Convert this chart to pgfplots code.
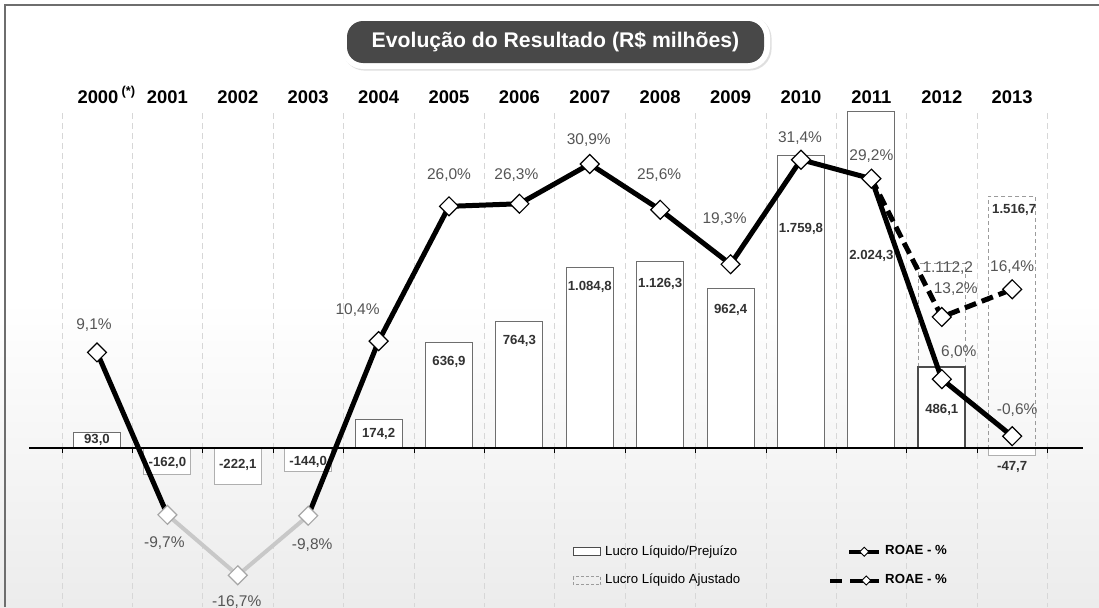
\documentclass[border=0pt]{standalone}
\usepackage{pgfplots}
\pgfplotsset{compat=1.18}
\usepackage{fontspec}
\setmainfont{Liberation Sans}
\usetikzlibrary{shadows}

\definecolor{barline}{RGB}{110,110,110}
\definecolor{negline}{RGB}{175,175,175}
\definecolor{adjline}{RGB}{155,155,155}
\definecolor{pctgray}{RGB}{85,85,85}
\definecolor{valdark}{RGB}{50,50,50}
\definecolor{titlebg}{RGB}{72,72,72}
\definecolor{gridc}{RGB}{215,215,215}
\definecolor{roaegray}{RGB}{200,200,200}
\definecolor{framec}{RGB}{110,110,110}
\definecolor{bottombg}{RGB}{236,236,236}

\tikzset{
  barlbl/.style={font=\bfseries\fontsize{6.6}{8}\selectfont, text=valdark, inner sep=0pt},
  pct/.style={font=\fontsize{7.75}{9}\selectfont, text=pctgray, inner sep=0pt},
  yearlbl/.style={font=\bfseries\fontsize{9.2}{11}\selectfont, anchor=base, inner sep=0pt},
}

\begin{document}
\begin{tikzpicture}
\path[use as bounding box] (0,0) rectangle (549.5pt,303.5pt);

% background, frame, grid, title, years (pixel coordinates, y downwards)
\begin{scope}[x=0.5pt, y=-0.5pt, yshift=303.5pt]
  \fill[white] (0,0) rectangle (1099,607);
  \shade[top color=white, bottom color=bottombg] (0,300) rectangle (1099,607);
  \draw[framec, line width=1pt] (5,607) -- (5,5) -- (1099,5);
  \foreach \k in {0,...,14}
    \draw[gridc, line width=0.5pt, dash pattern=on 3pt off 2pt] ({62+70.4*\k},113) -- ({62+70.4*\k},607);
  \fill[white, rounded corners=11pt, drop shadow={opacity=0.25, shadow xshift=0.8pt, shadow yshift=-0.8pt}]
    (341,15) rectangle (770,69);
  \fill[titlebg, rounded corners=8pt] (347,21) rectangle (764,63);
  \node[text=white, font=\bfseries\fontsize{10.6}{12}\selectfont] at (555.5,42)
    {Evolução do Resultado (R\$ milhões)};
  \node[yearlbl] at (98,103) {2000\rlap{\,\textsuperscript{(*)}}};
  \foreach \yr [count=\i from 1] in {2001,...,2013}
    \node[yearlbl] at ({97+70.4*\i},103) {\yr};
\end{scope}

% bars (R$ milhoes)
\begin{axis}[at={(0,0)}, anchor=south west, scale only axis,
  width=549.5pt, height=303.5pt,
  xmin=-1.3778, xmax=14.2330, ymin=-957.83, ymax=2698.8,
  hide axis, clip=false]
  \addplot[ybar, bar width=23.5pt, bar shift=0pt, draw=barline, fill=white, line width=0.5pt]
    coordinates {(0,93.0) (4,174.2) (5,636.9) (6,764.3) (7,1084.8) (8,1126.3) (9,962.4) (10,1759.8) (11,2024.3)};
  \addplot[ybar, bar width=23.5pt, bar shift=0pt, draw=negline, fill=white, line width=0.5pt]
    coordinates {(1,-162.0) (2,-222.1) (3,-144.0) (13,-47.7)};
  \addplot[ybar, bar width=23.5pt, bar shift=0pt, draw=adjline, fill=none, line width=0.5pt, dash pattern=on 2pt off 1.5pt]
    coordinates {(12,1112.2) (13,1516.7)};
  \addplot[ybar, bar width=23.5pt, bar shift=0pt, draw=black!70, fill=white, line width=1pt]
    coordinates {(12,486.1)};

  \node[barlbl, yshift=4pt] at (axis cs:0,0) {93,0};
  \node[barlbl, yshift=-7.5pt] at (axis cs:1,0) {-162,0};
  \node[barlbl, yshift=-8.5pt] at (axis cs:2,0) {-222,1};
  \node[barlbl, yshift=-7pt] at (axis cs:3,0) {-144,0};
  \node[barlbl, yshift=7pt] at (axis cs:4,0) {174,2};
  \node[barlbl, yshift=43pt] at (axis cs:5,0) {636,9};
  \node[barlbl, yshift=53.5pt] at (axis cs:6,0) {764,3};
  \node[barlbl, yshift=80.5pt] at (axis cs:7,0) {1.084,8};
  \node[barlbl, yshift=82pt] at (axis cs:8,0) {1.126,3};
  \node[barlbl, yshift=69pt] at (axis cs:9,0) {962,4};
  \node[barlbl, yshift=109.5pt] at (axis cs:10,0) {1.759,8};
  \node[barlbl, yshift=96pt] at (axis cs:11,0) {2.024,3};
  \node[barlbl, yshift=19pt] at (axis cs:12,0) {486,1};
  \node[pct, xshift=3pt, yshift=90pt] at (axis cs:12,0) {1.112,2};
  \node[barlbl, xshift=1pt, yshift=119pt] at (axis cs:13,0) {1.516,7};
  \node[barlbl, yshift=-9.5pt] at (axis cs:13,0) {-47,7};
\end{axis}

% zero line with small ticks at the column borders
\begin{scope}[x=0.5pt, y=-0.5pt, yshift=303.5pt]
  \draw[black, line width=0.8pt] (29,448) -- (1083,448);
  \foreach \k in {0,...,14}
    \draw[black, line width=0.5pt] ({62+70.4*\k},448) -- ({62+70.4*\k},453);
\end{scope}

% ROAE (%)
\begin{axis}[at={(0,0)}, anchor=south west, scale only axis,
  width=549.5pt, height=303.5pt,
  xmin=-1.3778, xmax=14.2330, ymin=-20.370, ymax=49.884,
  hide axis, clip=false,
  legend columns=2,
  legend cell align=left,
  legend style={at={(0.5214,0.1087)}, anchor=north west, draw=none, fill=none,
    inner sep=0pt, row sep=4pt,
    font=\fontsize{6.6}{8}\selectfont,
    /tikz/every even column/.append style={column sep=42pt}},
  ]
  \addplot[roaegray, line width=2pt, forget plot] coordinates {(1,-9.7) (2,-16.7) (3,-9.8)};
  \addplot[black, line width=2.5pt, forget plot] coordinates {(0,9.1) (1,-9.7)};
  \addplot[black, line width=2.5pt, line join=round, forget plot]
    coordinates {(3,-9.8) (4,10.4) (5,26.0) (6,26.3) (7,30.9) (8,25.6) (9,19.3) (10,31.4) (11,29.2) (12,6.0) (13,-0.6)};
  \addplot[black, line width=2.5pt, dash pattern=on 6pt off 3pt, forget plot]
    coordinates {(11,29.2) (12,13.2) (13,16.4)};
  \addplot[only marks, mark=square*, mark size=3.35pt, forget plot,
    mark options={rotate=45, fill=white, draw=black!35, line width=0.6pt}]
    coordinates {(1,-9.7) (2,-16.7) (3,-9.8)};
  \addplot[only marks, mark=square*, mark size=3.35pt, forget plot,
    mark options={rotate=45, fill=white, draw=black, line width=0.6pt}]
    coordinates {(0,9.1) (4,10.4) (5,26.0) (6,26.3) (7,30.9) (8,25.6) (9,19.3) (10,31.4) (11,29.2) (12,6.0) (13,-0.6) (12,13.2) (13,16.4)};

  \node[pct, xshift=-1.5pt, yshift=13.5pt] at (axis cs:0,9.1) {9,1\%};
  \node[pct, xshift=-1.5pt, yshift=-14pt] at (axis cs:1,-9.7) {-9,7\%};
  \node[pct, xshift=-0.5pt, yshift=-13.5pt] at (axis cs:2,-16.7) {-16,7\%};
  \node[pct, xshift=2pt, yshift=-14.5pt] at (axis cs:3,-9.8) {-9,8\%};
  \node[pct, xshift=-10.5pt, yshift=15.5pt] at (axis cs:4,10.4) {10,4\%};
  \node[pct, yshift=15.5pt] at (axis cs:5,26.0) {26,0\%};
  \node[pct, xshift=-1.5pt, yshift=14.5pt] at (axis cs:6,26.3) {26,3\%};
  \node[pct, xshift=-0.5pt, yshift=12pt] at (axis cs:7,30.9) {30,9\%};
  \node[pct, xshift=-0.5pt, yshift=17.5pt] at (axis cs:8,25.6) {25,6\%};
  \node[pct, xshift=-3pt, yshift=22.5pt] at (axis cs:9,19.3) {19,3\%};
  \node[pct, xshift=-0.5pt, yshift=11pt] at (axis cs:10,31.4) {31,4\%};
  \node[pct, yshift=11.5pt] at (axis cs:11,29.2) {29,2\%};
  \node[pct, xshift=7pt, yshift=14pt] at (axis cs:12,13.2) {13,2\%};
  \node[pct, xshift=8.5pt, yshift=13.5pt] at (axis cs:12,6.0) {6,0\%};
  \node[pct, yshift=11pt] at (axis cs:13,16.4) {16,4\%};
  \node[pct, xshift=2.5pt, yshift=13pt] at (axis cs:13,-0.6) {-0,6\%};

  \addlegendimage{legend image code/.code={
    \draw[draw=black!70, fill=white, line width=0.4pt] (0pt,-2pt) rectangle (13.5pt,2pt);}}
  \addlegendentry{Lucro Líquido/Prejuízo}
  \addlegendimage{legend image code/.code={
    \draw[black, line width=2pt] (9.5pt,0pt) -- (24.5pt,0pt);
    \draw[mark=square*, mark size=1.6pt, mark options={rotate=45, fill=white, draw=black, line width=0.4pt}]
      plot coordinates {(17pt,0pt)};}}
  \addlegendentry{\textbf{ROAE - \%}}
  \addlegendimage{legend image code/.code={
    \draw[draw=adjline, fill=none, line width=0.4pt, dash pattern=on 1.5pt off 1pt] (0pt,-2pt) rectangle (13.5pt,2pt);}}
  \addlegendentry{Lucro Líquido Ajustado}
  \addlegendimage{legend image code/.code={
    \draw[black, line width=2pt] (0pt,0pt) -- (6pt,0pt);
    \draw[black, line width=2pt] (10pt,0pt) -- (24.5pt,0pt);
    \draw[mark=square*, mark size=1.6pt, mark options={rotate=45, fill=white, draw=black, line width=0.4pt}]
      plot coordinates {(18pt,0pt)};}}
  \addlegendentry{\textbf{ROAE - \%}}
\end{axis}
\end{tikzpicture}
\end{document}
